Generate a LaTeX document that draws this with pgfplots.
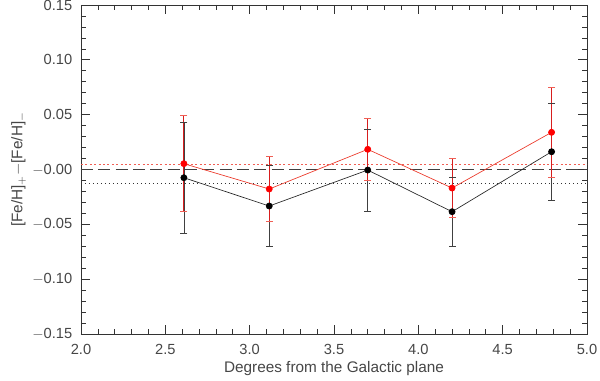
\documentclass[border=0pt]{standalone}
\usepackage{fontspec}
\setmainfont{Liberation Sans}
\usepackage{pgfplots}
\pgfplotsset{compat=1.18}
\definecolor{redline}{RGB}{235,55,40}
\definecolor{rederr}{RGB}{215,30,30}
\definecolor{redcap}{RGB}{240,95,85}
\definecolor{txt}{RGB}{70,70,70}
\begin{document}
\begin{tikzpicture}
\begin{axis}[
    name=ax,
    scale only axis,
    width=379.5pt, height=246.75pt,
    xmin=2, xmax=5, ymin=-0.15, ymax=0.15,
    xtick={2,2.5,3,3.5,4,4.5,5},
    xticklabels={2.0,2.5,3.0,3.5,4.0,4.5,5.0},
    ytick={-0.15,-0.1,-0.05,0,0.05,0.1,0.15},
    yticklabels={$-$0.15,$-$0.10,$-$0.05,$-$0.00,0.05,0.10,0.15},
    minor x tick num=4, minor y tick num=4,
    tick align=inside,
    major tick length=7pt, minor tick length=3.5pt,
    axis line style={black!80, line width=0.6pt},
    every tick/.style={black!80, line width=0.5pt},
    tick label style={font=\fontsize{11}{13}\selectfont, text=txt},
    label style={font=\fontsize{11.5}{13}\selectfont, text=txt},
    xticklabel style={yshift=-4pt},
    yticklabel style={xshift=-3pt},
    xlabel={Degrees from the Galactic plane},
    ylabel={[Fe/H]$_+$$-$[Fe/H]$_-$},
    xlabel style={yshift=2pt},
    ylabel style={yshift=-2pt},
    unbounded coords=jump,
]
% reference lines
\addplot[black!75, dash pattern=on 9pt off 4pt, line width=0.5pt] coordinates {(2,0) (5,0)};
\addplot[black!80, dash pattern=on 0.8pt off 2.2pt, line width=0.7pt] coordinates {(2,-0.0123) (5,-0.0123)};
\addplot[redcap, dash pattern=on 1.5pt off 1.8pt, line width=0.6pt] coordinates {(2,0.0047) (5,0.0047)};
% black error bars (low, high)
\addplot[black!75, line width=0.5pt, mark=-, mark size=2.6pt] coordinates {
    (2.61,-0.0578) (2.61,0.0428) (2.61,nan)
    (3.116,-0.0703) (3.116,0.0037) (3.116,nan)
    (3.70,-0.0379) (3.70,0.0369) (3.70,nan)
    (4.20,-0.0700) (4.20,-0.0070) (4.20,nan)
    (4.79,-0.0280) (4.79,0.0604)
};
% black series
\addplot[black!85, line width=0.5pt, mark=*, mark size=2.3pt,
    mark options={fill=black, draw=black}] coordinates {
    (2.61,-0.0075) (3.116,-0.0333) (3.70,-0.0005) (4.20,-0.0385) (4.79,0.0162)
};
% red error bars (low, high)
\addplot[rederr, line width=0.7pt, mark=-, mark size=2.6pt,
    mark options={draw=redcap, line width=0.6pt}] coordinates {
    (2.61,-0.0384) (2.61,0.0490) (2.61,nan)
    (3.116,-0.0476) (3.116,0.0120) (3.116,nan)
    (3.70,-0.0096) (3.70,0.0464) (3.70,nan)
    (4.20,-0.0441) (4.20,0.0103) (4.20,nan)
    (4.79,-0.0069) (4.79,0.0747)
};
% red series
\addplot[redline, line width=0.5pt, mark=*, mark size=2.3pt,
    mark options={fill=red, draw=red}] coordinates {
    (2.61,0.0053) (3.116,-0.0178) (3.70,0.0184) (4.20,-0.0169) (4.79,0.0339)
};
\end{axis}
\pgfresetboundingbox
\path[use as bounding box] ([xshift=-60.75pt,yshift=-35.25pt]ax.south west) rectangle ([xshift=9.75pt,yshift=3.75pt]ax.north east);
\end{tikzpicture}
\end{document}
